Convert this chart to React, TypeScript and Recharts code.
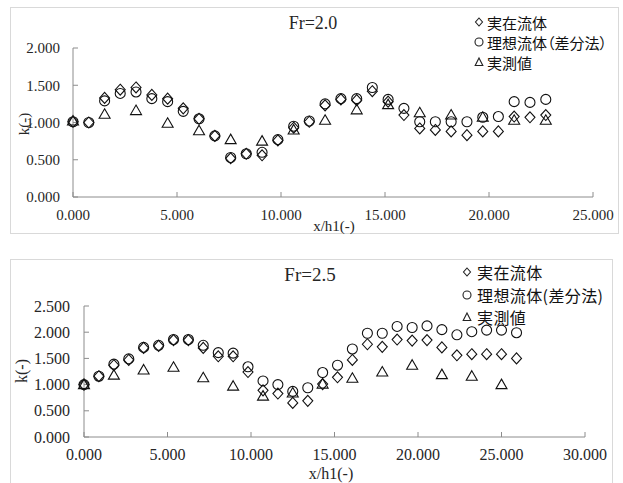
import React from 'react'
import { ScatterChart, Scatter, XAxis, YAxis, Legend } from 'recharts'

// Fr=2.0
const xTop = [0, 0.76, 1.52, 2.27, 3.03, 3.79, 4.55, 5.3, 6.06, 6.82, 7.58, 8.33, 9.09, 9.85, 10.61, 11.36, 12.12, 12.88, 13.64, 14.39, 15.15, 15.91, 16.67, 17.42, 18.18, 18.94, 19.7, 20.45, 21.21, 21.97, 22.73]
const realTop = [1.01, 1.0, 1.33, 1.44, 1.47, 1.37, 1.32, 1.19, 1.05, 0.82, 0.52, 0.58, 0.56, 0.76, 0.93, 1.01, 1.23, 1.31, 1.3, 1.42, 1.28, 1.1, 0.92, 0.9, 0.88, 0.83, 0.88, 0.88, 1.08, 1.07, 1.1]
const idealTop = [1.01, 1.0, 1.29, 1.39, 1.41, 1.32, 1.28, 1.15, 1.05, 0.82, 0.53, 0.58, 0.6, 0.77, 0.95, 1.02, 1.25, 1.32, 1.32, 1.47, 1.31, 1.19, 1.01, 1.01, 1.01, 1.01, 1.07, 1.08, 1.28, 1.27, 1.31]
const xMeasTop = [0, 1.52, 3.03, 4.55, 6.06, 7.58, 9.09, 10.61, 12.12, 13.64, 15.15, 16.67, 18.18, 19.7, 21.21, 22.73]
const measTop = [1.02, 1.11, 1.16, 0.99, 0.89, 0.77, 0.75, 0.9, 1.03, 1.17, 1.24, 1.13, 1.1, 1.07, 1.03, 1.03]
const xTicksTop = [0, 5, 10, 15, 20, 25]
const yTicksTop = [0, 0.5, 1, 1.5, 2]

// Fr=2.5
const xBot = [0, 0.89, 1.79, 2.68, 3.57, 4.47, 5.36, 6.25, 7.14, 8.04, 8.93, 9.82, 10.72, 11.61, 12.5, 13.4, 14.29, 15.18, 16.07, 16.97, 17.86, 18.75, 19.65, 20.54, 21.43, 22.33, 23.22, 24.11, 25.0, 25.9]
const realBot = [1.0, 1.16, 1.37, 1.47, 1.7, 1.74, 1.85, 1.85, 1.7, 1.54, 1.54, 1.24, 0.89, 0.83, 0.65, 0.69, 1.01, 1.14, 1.47, 1.77, 1.72, 1.86, 1.84, 1.85, 1.71, 1.56, 1.58, 1.58, 1.58, 1.5]
const idealBot = [1.0, 1.16, 1.39, 1.49, 1.71, 1.75, 1.86, 1.86, 1.75, 1.61, 1.6, 1.34, 1.07, 1.0, 0.87, 0.94, 1.23, 1.37, 1.68, 1.98, 1.98, 2.11, 2.09, 2.12, 2.05, 1.95, 2.01, 2.04, 2.04, 1.99]
const xMeasBot = [0, 1.79, 3.57, 5.36, 7.14, 8.93, 10.72, 12.5, 14.29, 16.07, 17.86, 19.65, 21.43, 23.22, 25.0]
const measBot = [1.0, 1.18, 1.28, 1.33, 1.13, 0.97, 0.78, 0.84, 1.01, 1.12, 1.24, 1.37, 1.19, 1.16, 1.0]
const xTicksBot = [0, 5, 10, 15, 20, 25, 30]
const yTicksBot = [0, 0.5, 1, 1.5, 2, 2.5]

const seriesNames = ['実在流体', '理想流体(差分法)', '実測値']

const toPoints = (xs: number[], ys: number[]) => xs.map((x, i) => ({ x, y: ys[i] }))

const SERIF = "'Liberation Serif', 'Times New Roman', serif"
const GOTHIC = "'Noto Sans CJK JP', sans-serif"
const AXIS = '#8c8c8c'
const INK = '#262626'

const diamond = (p: any) => (
  <path
    d={`M${p.cx},${p.cy - 5.5}L${p.cx + 5},${p.cy}L${p.cx},${p.cy + 5.5}L${p.cx - 5},${p.cy}Z`}
    fill="none"
    stroke="#111"
    strokeWidth={1.1}
  />
)
const circle = (p: any) => <circle cx={p.cx} cy={p.cy} r={5} fill="none" stroke="#111" strokeWidth={1.1} />
const triangle = (p: any) => (
  <path
    d={`M${p.cx},${p.cy - 5.5}L${p.cx + 5.5},${p.cy + 4}L${p.cx - 5.5},${p.cy + 4}Z`}
    fill="none"
    stroke="#111"
    strokeWidth={1.1}
  />
)

const symbol = (i: number) => {
  if (i === 0) return <path d="M6,3L9.5,7L6,11L2.5,7Z" fill="none" stroke="#222" strokeWidth={1.1} />
  if (i === 1) return <circle cx={6} cy={7} r={4} fill="none" stroke="#222" strokeWidth={1.1} />
  return <path d="M6,3L9.8,10.5L2.2,10.5Z" fill="none" stroke="#222" strokeWidth={1.1} />
}

const makeLegend = (fontSize: number, rowHeight: number, textGap: number, top: boolean) => () => (
  <div style={{ fontFamily: GOTHIC, fontSize, color: '#111' }}>
    {seriesNames.map((name, i) => (
      <div key={name} style={{ display: 'flex', alignItems: 'center', height: rowHeight, whiteSpace: 'nowrap' }}>
        <svg width={12} height={14} style={{ marginRight: textGap }}>
          {symbol(i)}
        </svg>
        <span style={top ? { fontFeatureSettings: '"palt"' } : { letterSpacing: 0.4 }}>
          {top ? name.replace('(', '（').replace(')', '）') : name}
        </span>
      </div>
    ))}
  </div>
)

const fmt = (v: number) => v.toFixed(3)

export default function App() {
  return (
    <div style={{ position: 'absolute', left: 0, top: 0, width: 623, height: 483, background: '#fff', overflow: 'hidden', fontFamily: SERIF }}>
      {/* chart frames */}
      <div style={{ position: 'absolute', left: 10, top: 7, width: 607, height: 225, border: '1px solid #d9d9d9' }} />
      <div style={{ position: 'absolute', left: 10, top: 259, width: 601, height: 240, border: '1px solid #d9d9d9' }} />

      <div style={{ position: 'absolute', left: 0, top: 0, fontFamily: SERIF }}>
        <ScatterChart width={623} height={250} margin={{ top: 48, right: 30, bottom: 23, left: 13 }} style={{ fontFamily: SERIF }}>
          <XAxis
            type="number"
            dataKey="x"
            domain={[0, 25]}
            ticks={xTicksTop}
            tickFormatter={fmt}
            height={30}
            stroke={AXIS}
            tickSize={-5}
            tickMargin={17}
            tick={{ fill: INK, fontSize: 15, fontFamily: 'Liberation Serif' }}
            label={() => (
              <text x={334} y={226} textAnchor="middle" dominantBaseline="central" fill={INK} fontSize={15} fontFamily="Liberation Serif">
                x/h1(-)
              </text>
            )}
          />
          <YAxis
            type="number"
            dataKey="y"
            domain={[0, 2]}
            ticks={yTicksTop}
            tickFormatter={fmt}
            width={60}
            stroke={AXIS}
            tickSize={-5}
            tickMargin={18}
            tick={{ fill: INK, fontSize: 15, fontFamily: 'Liberation Serif' }}
            label={() => (
              <text x={24} y={124} textAnchor="middle" dominantBaseline="central" transform="rotate(-90 24 124)" fill={INK} fontSize={15} fontFamily="Liberation Serif">
                k(-)
              </text>
            )}
          />
          <Legend
            layout="vertical"
            align="center"
            verticalAlign="middle"
            wrapperStyle={{ left: 473, top: 12 }}
            content={makeLegend(15, 20, 2, true)}
          />
          <Scatter name={seriesNames[0]} data={toPoints(xTop, realTop)} shape={diamond} isAnimationActive={false} />
          <Scatter name={seriesNames[1]} data={toPoints(xTop, idealTop)} shape={circle} isAnimationActive={false} />
          <Scatter name={seriesNames[2]} data={toPoints(xMeasTop, measTop)} shape={triangle} isAnimationActive={false} />
        </ScatterChart>
      </div>
      <div style={{ position: 'absolute', left: 263, top: 14, width: 100, textAlign: 'center', fontFamily: SERIF, fontSize: 18, lineHeight: '18px', color: INK }}>
        Fr=2.0
      </div>

      <div style={{ position: 'absolute', left: 0, top: 250, fontFamily: SERIF }}>
        <ScatterChart width={623} height={233} margin={{ top: 56, right: 38, bottom: 16, left: 14 }} style={{ fontFamily: SERIF }}>
          <XAxis
            type="number"
            dataKey="x"
            domain={[0, 30]}
            ticks={xTicksBot}
            tickFormatter={fmt}
            height={30}
            stroke={AXIS}
            tickSize={-5}
            tickMargin={17}
            tick={{ fill: INK, fontSize: 16, fontFamily: 'Liberation Serif' }}
            label={() => (
              <text x={331} y={223} textAnchor="middle" dominantBaseline="central" fill={INK} fontSize={16} fontFamily="Liberation Serif">
                x/h1(-)
              </text>
            )}
          />
          <YAxis
            type="number"
            dataKey="y"
            domain={[0, 2.5]}
            ticks={yTicksBot}
            tickFormatter={fmt}
            width={70}
            stroke={AXIS}
            tickSize={-5}
            tickMargin={19}
            tick={{ fill: INK, fontSize: 16, fontFamily: 'Liberation Serif' }}
            label={() => (
              <text x={21} y={121} textAnchor="middle" dominantBaseline="central" transform="rotate(-90 21 121)" fill={INK} fontSize={16} fontFamily="Liberation Serif">
                k(-)
              </text>
            )}
          />
          <Legend
            layout="vertical"
            align="center"
            verticalAlign="middle"
            wrapperStyle={{ left: 461, top: 11 }}
            content={makeLegend(16, 22.5, 4, false)}
          />
          <Scatter name={seriesNames[0]} data={toPoints(xBot, realBot)} shape={diamond} isAnimationActive={false} />
          <Scatter name={seriesNames[1]} data={toPoints(xBot, idealBot)} shape={circle} isAnimationActive={false} />
          <Scatter name={seriesNames[2]} data={toPoints(xMeasBot, measBot)} shape={triangle} isAnimationActive={false} />
        </ScatterChart>
      </div>
      <div style={{ position: 'absolute', left: 260, top: 265, width: 100, textAlign: 'center', fontFamily: SERIF, fontSize: 19, lineHeight: '19px', color: INK }}>
        Fr=2.5
      </div>
    </div>
  )
}
